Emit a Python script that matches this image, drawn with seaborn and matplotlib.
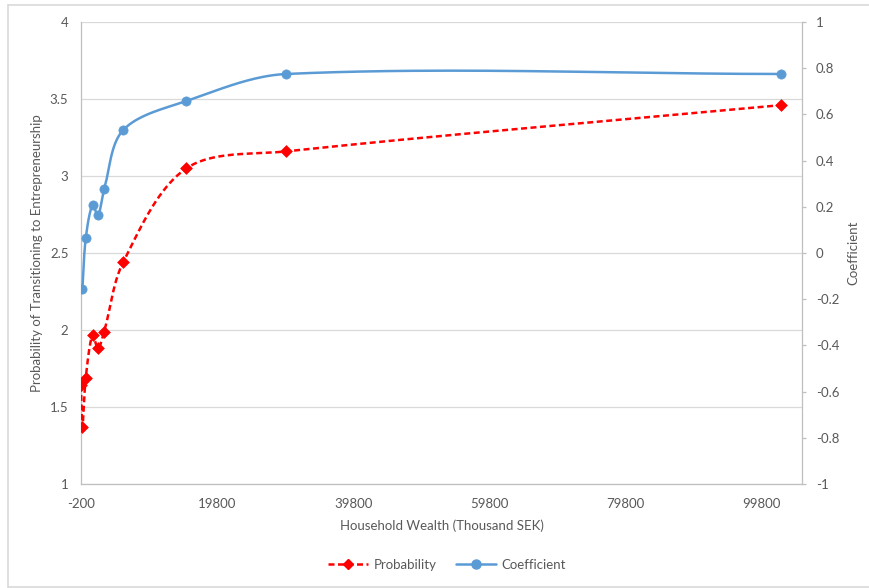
import numpy as np
import pandas as pd
import matplotlib
matplotlib.use("Agg")
import matplotlib.pyplot as plt
from matplotlib.lines import Line2D
import seaborn as sns

# Household wealth (thousand SEK) and the two series
wealth = [-200, 0, 500, 1500, 2300, 3200, 6000, 15300, 30000, 102700]
probability = [1.64, 1.37, 1.69, 1.97, 1.88, 1.99, 2.44, 3.05, 3.16, 3.46]
coefficient = [np.nan, -0.157, 0.064, 0.208, 0.163, 0.276, 0.532, 0.658, 0.775, 0.775]

x_ticks = [-200, 19800, 39800, 59800, 79800, 99800]
left_ticks = [1, 1.5, 2, 2.5, 3, 3.5, 4]
right_ticks = [-1, -0.8, -0.6, -0.4, -0.2, 0, 0.2, 0.4, 0.6, 0.8, 1]

XLIM = (-200, 105800)
YLIM_L = (1, 4)
YLIM_R = (-1, 1)

sns.set_theme(style="white")
plt.rcParams["font.family"] = ["Lato", "DejaVu Sans"]
TXT = "#595959"
GRID = "#D9D9D9"
FS = 9.5

W, H = 869, 588
fig = plt.figure(figsize=(W / 100, H / 100), dpi=100)
L, R, T, B = 81, 802, 22, 484
ax = fig.add_axes([L / W, 1 - B / H, (R - L) / W, (B - T) / H])
ax2 = ax.twinx()


def smooth_curve(xs, ys, ylim, n=40):
    """Chord-length Hermite/Bezier smoothing computed in pixel space."""
    xs = np.asarray(xs, float)
    ys = np.asarray(ys, float)
    keep = ~np.isnan(ys)
    xs, ys = xs[keep], ys[keep]
    pw, ph = R - L, B - T
    px = (xs - XLIM[0]) / (XLIM[1] - XLIM[0]) * pw
    py = (ys - ylim[0]) / (ylim[1] - ylim[0]) * ph
    P = np.column_stack([px, py])
    d = np.linalg.norm(np.diff(P, axis=0), axis=1)
    m = np.zeros_like(P)
    m[0] = (P[1] - P[0]) / d[0]
    m[-1] = (P[-1] - P[-2]) / d[-1]
    for i in range(1, len(P) - 1):
        m[i] = (P[i + 1] - P[i - 1]) / (d[i - 1] + d[i])
    out = []
    t = np.linspace(0, 1, n)[:, None]
    for i in range(len(P) - 1):
        c1 = P[i] + m[i] * d[i] / 3
        c2 = P[i + 1] - m[i + 1] * d[i] / 3
        seg = ((1 - t) ** 3) * P[i] + 3 * ((1 - t) ** 2) * t * c1 \
            + 3 * (1 - t) * t ** 2 * c2 + t ** 3 * P[i + 1]
        out.append(seg if i == 0 else seg[1:])
    S = np.vstack(out)
    sx = S[:, 0] / pw * (XLIM[1] - XLIM[0]) + XLIM[0]
    sy = S[:, 1] / ph * (ylim[1] - ylim[0]) + ylim[0]
    return sx, sy


RED = "#FF0000"
BLUE = "#5B9BD5"

# Probability series (left axis)
sx, sy = smooth_curve(wealth, probability, YLIM_L)
sns.lineplot(x=sx, y=sy, sort=False, estimator=None, ax=ax, color=RED,
             linewidth=1.8, linestyle=(0, (2.4, 1.4)), zorder=3)
sns.scatterplot(x=wealth, y=probability, ax=ax, marker="D", s=36, color=RED,
                edgecolor=RED, linewidth=0.5, zorder=4)

# Coefficient series (right axis)
cx, cy = smooth_curve(wealth, coefficient, YLIM_R)
sns.lineplot(x=cx, y=cy, sort=False, estimator=None, ax=ax2, color=BLUE,
             linewidth=1.8, zorder=3)
sns.scatterplot(x=wealth, y=coefficient, ax=ax2, marker="o", s=44, color=BLUE,
                edgecolor=BLUE, linewidth=0.5, zorder=4)

# Axes formatting
ax.set_xlim(*XLIM)
ax.set_ylim(*YLIM_L)
ax2.set_ylim(*YLIM_R)
ax.set_xticks(x_ticks)
ax.set_xticklabels([str(v) for v in x_ticks])
ax.set_yticks(left_ticks)
ax.set_yticklabels([f"{v:g}" for v in left_ticks])
ax2.set_yticks(right_ticks)
ax2.set_yticklabels([f"{v:g}" for v in right_ticks])

ax.yaxis.grid(True, color=GRID, linewidth=0.9)
ax.xaxis.grid(False)
ax2.grid(False)
ax.set_axisbelow(True)

for a in (ax, ax2):
    for s in a.spines.values():
        s.set_visible(False)
ax.spines["left"].set_visible(True)
ax.spines["bottom"].set_visible(True)
ax.spines["left"].set_color("#BFBFBF")
ax.spines["bottom"].set_color("#BFBFBF")
ax.spines["left"].set_linewidth(0.9)
ax.spines["bottom"].set_linewidth(0.9)
ax2.spines["right"].set_visible(True)
ax2.spines["right"].set_color("#BFBFBF")
ax2.spines["right"].set_linewidth(0.9)

ax.tick_params(axis="x", length=0, pad=10, labelsize=FS, colors=TXT)
ax.tick_params(axis="y", length=0, pad=9, labelsize=FS, colors=TXT)
ax2.tick_params(axis="y", right=True, length=3, width=0.9, color="#BFBFBF",
                pad=7, labelsize=FS, labelcolor=TXT)

ax.set_xlabel("Household Wealth (Thousand SEK)", fontsize=FS, color=TXT, labelpad=7)
ax.set_ylabel("Probability of Transitioning to Entrepreneurship", fontsize=FS,
              color=TXT, labelpad=5)
ax2.set_ylabel("Coefficient", fontsize=FS, color=TXT, labelpad=6)

# Legend below the plot
handles = [
    Line2D([0], [0], color=RED, linewidth=1.8, linestyle=(0, (2.4, 1.4)),
           marker="D", markersize=5.5, markerfacecolor=RED, markeredgecolor=RED),
    Line2D([0], [0], color=BLUE, linewidth=1.8, marker="o", markersize=6.5,
           markerfacecolor=BLUE, markeredgecolor=BLUE),
]
fig.legend(handles, ["Probability", "Coefficient"], loc="center",
           bbox_to_anchor=(447 / W, 1 - 565 / H), ncol=2, frameon=False,
           fontsize=FS, labelcolor=TXT, handlelength=3.0, columnspacing=1.5,
           handletextpad=0.4)

# Chart-area border
for (x0, y0, x1, y1) in [(8, 5, W + 5, 5), (8, 5, 8, 587), (8, 587, W + 5, 587)]:
    fig.add_artist(Line2D([x0 / W, x1 / W], [1 - y0 / H, 1 - y1 / H],
                          color=GRID, linewidth=1.2, transform=fig.transFigure))

fig.savefig("out.png", dpi=100, facecolor="white")
